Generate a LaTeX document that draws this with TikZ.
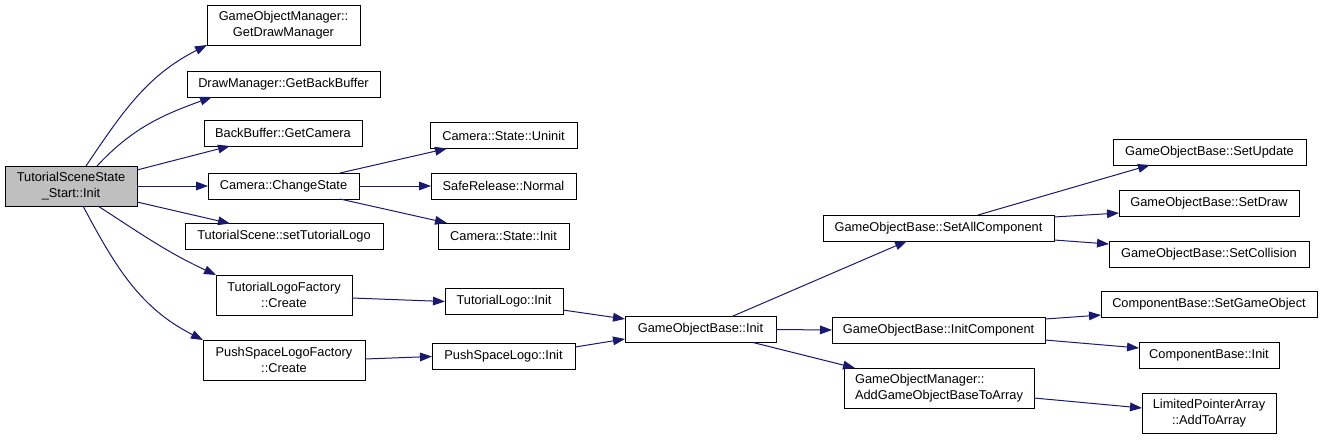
\documentclass[tikz,border=0pt]{standalone}
\usepackage{fontspec}
\setmainfont{Liberation Sans}
\usetikzlibrary{arrows.meta}
\definecolor{edgeblue}{HTML}{191970}
\definecolor{rootgray}{HTML}{BFBFBF}
\begin{document}
\begin{tikzpicture}[x=0.75pt, y=-0.75pt,
  fn/.style={draw=black, line width=0.75pt, rectangle, inner sep=0pt, outer sep=0pt,
    minimum height=19.5pt, align=center, font=\fontsize{9.6}{12}\selectfont},
  fn2/.style={fn, minimum height=30pt},
  call/.style={draw=edgeblue, line width=0.75pt, -{Triangle[length=9pt, width=6.5pt]}}]
  \useasboundingbox (0,0) rectangle (1331,440);
  % Caller and first level
  \node[fn2, fill=rootgray, minimum width=99pt] (root) at (71,186) {TutorialSceneState\\\_Start::Init};
  \node[fn2, minimum width=114.75pt] (gdm) at (283.5,25) {GameObjectManager::\\GetDrawManager};
  \node[fn, minimum width=144.75pt] (gbb) at (283.5,84) {DrawManager::GetBackBuffer};
  \node[fn, minimum width=118.5pt] (gcam) at (283,133) {BackBuffer::GetCamera};
  \node[fn, minimum width=113.25pt] (chst) at (283.5,186) {Camera::ChangeState};
  \node[fn, minimum width=148.5pt] (stl) at (284,236.5) {TutorialScene::setTutorialLogo};
  \node[fn2, minimum width=102pt] (tlf) at (284,295) {TutorialLogoFactory\\::Create};
  \node[fn2, minimum width=121.5pt] (pslf) at (284,360) {PushSpaceLogoFactory\\::Create};
  % Second level
  \node[fn, minimum width=110.25pt] (uninit) at (503.5,135.5) {Camera::State::Uninit};
  \node[fn, minimum width=108.75pt] (sfn) at (503.5,186) {SafeRelease::Normal};
  \node[fn, minimum width=98.25pt] (csinit) at (503.5,236) {Camera::State::Init};
  \node[fn, minimum width=88.5pt] (tlinit) at (504,301.5) {TutorialLogo::Init};
  \node[fn, minimum width=107.25pt] (pslinit) at (503.5,356.5) {PushSpaceLogo::Init};
  \node[fn, minimum width=113.25pt] (gobinit) at (700.5,329.5) {GameObjectBase::Init};
  % Third level
  \node[fn, minimum width=173.25pt] (setall) at (938.5,228) {GameObjectBase::SetAllComponent};
  \node[fn, minimum width=159.75pt] (initcomp) at (938.5,330) {GameObjectBase::InitComponent};
  \node[fn2, minimum width=142.5pt, align=left] (addarr) at (939,388) {GameObjectManager::\\AddGameObjectBaseToArray};
  % Leaves
  \node[fn, minimum width=144.75pt] (setupd) at (1209.5,152) {GameObjectBase::SetUpdate};
  \node[fn, minimum width=135pt] (setdraw) at (1209,203) {GameObjectBase::SetDraw};
  \node[fn, minimum width=150pt] (setcol) at (1209,254) {GameObjectBase::SetCollision};
  \node[fn, minimum width=162pt] (setgo) at (1209,304.5) {ComponentBase::SetGameObject};
  \node[fn, minimum width=105pt] (cbinit) at (1209,355) {ComponentBase::Init};
  \node[fn2, minimum width=100.5pt] (addto) at (1209,413) {LimitedPointerArray\\::AddToArray};
  % Calls from the caller
  \draw[call] ([xshift=11.25pt]root.north) to[out=56, in=207] (gdm.south west);
  \draw[call] ([xshift=19.5pt]root.north) to[out=47, in=200] ([xshift=18.75pt]gbb.south west);
  \draw[call] ([yshift=12pt]root.east) -- ([xshift=19.5pt]gcam.south west);
  \draw[call] (root.east) -- (chst.west);
  \draw[call] ([yshift=-12pt]root.east) -- ([xshift=33.75pt]stl.north west);
  \draw[call] ([xshift=20.25pt]root.south) to[out=-33, in=155] (tlf.north west);
  \draw[call] ([xshift=9pt]root.south) to[out=-62, in=153] (pslf.north west);
  % Second level calls
  \draw[call] ([xshift=42.4pt]chst.north) -- ([xshift=12.75pt]uninit.south west);
  \draw[call] (chst.east) -- (sfn.west);
  \draw[call] ([xshift=42.4pt]chst.south) -- ([xshift=6.75pt]csinit.north west);
  \draw[call] ([yshift=-2.25pt]tlf.east) -- (tlinit.west);
  \draw[call] ([yshift=0.75pt]pslf.east) -- (pslinit.west);
  \draw[call] ([yshift=-6.4pt]tlinit.east) -- ([yshift=7.9pt]gobinit.west);
  \draw[call] ([yshift=7.1pt]pslinit.east) -- ([yshift=-7.1pt]gobinit.west);
  % Third level calls
  \draw[call] ([xshift=23.6pt]gobinit.north) -- ([xshift=-23.6pt]setall.south);
  \draw[call] (gobinit.east) -- (initcomp.west);
  \draw[call] ([xshift=39.4pt]gobinit.south) -- ([xshift=8.25pt]addarr.north west);
  \draw[call] ([xshift=29.6pt]setall.north) -- ([xshift=27.75pt]setupd.south west);
  \draw[call] ([yshift=8.25pt]setall.east) -- ([yshift=-7.5pt]setdraw.west);
  \draw[call] ([yshift=-9pt]setall.east) -- ([yshift=7.5pt]setcol.west);
  \draw[call] ([yshift=8.25pt]initcomp.east) -- ([yshift=-7.9pt]setgo.west);
  \draw[call] ([yshift=-7.5pt]initcomp.east) -- ([yshift=5.25pt]cbinit.west);
  \draw[call] ([yshift=-7.5pt]addarr.east) -- ([yshift=3.75pt]addto.west);
\end{tikzpicture}
\end{document}
